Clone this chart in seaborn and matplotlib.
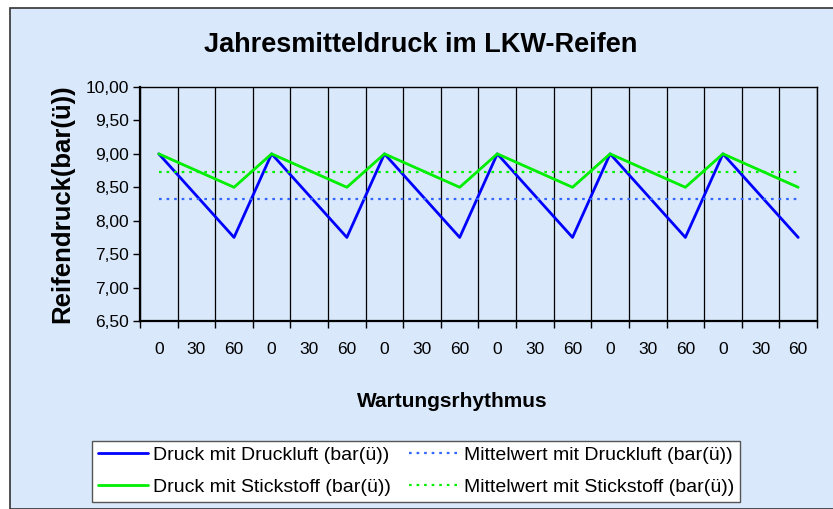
import pandas as pd
import matplotlib.pyplot as plt
import seaborn as sns
from matplotlib.patches import Rectangle
from matplotlib.ticker import FuncFormatter, MultipleLocator

# Daten
rhythmus = ['0', '30', '60'] * 6
druckluft = [9.00, 8.375, 7.75] * 6
stickstoff = [9.00, 8.75, 8.50] * 6
mittel_druckluft = [8.33] * 18
mittel_stickstoff = [8.73] * 18

df = pd.DataFrame({
    'pos': range(len(rhythmus)),
    'Druck mit Druckluft (bar(ü))': druckluft,
    'Druck mit Stickstoff (bar(ü))': stickstoff,
    'Mittelwert mit Druckluft (bar(ü))': mittel_druckluft,
    'Mittelwert mit Stickstoff (bar(ü))': mittel_stickstoff,
})

sns.set_style('ticks')
plt.rcParams['font.family'] = ['Liberation Sans', 'DejaVu Sans']
plt.rcParams['text.color'] = 'black'
plt.rcParams['axes.labelcolor'] = 'black'
plt.rcParams['xtick.color'] = 'black'
plt.rcParams['ytick.color'] = 'black'

bg = '#d9e8fa'
fig = plt.figure(figsize=(8.33, 5.09), dpi=100, facecolor='white')
fig.patches.append(Rectangle((10 / 833, 0), 1, 1 - 8 / 509, transform=fig.transFigure,
                             facecolor=bg, edgecolor='#333333', linewidth=1.2, zorder=-10))

ax = fig.add_axes([140 / 833, 1 - 321 / 509, 677 / 833, 234 / 509])
ax.set_facecolor(bg)

#Linien
sns.lineplot(data=df, x='pos', y='Druck mit Druckluft (bar(ü))', ax=ax, color='#0000ff',
             linewidth=2, label='Druck mit Druckluft (bar(ü))')
sns.lineplot(data=df, x='pos', y='Druck mit Stickstoff (bar(ü))', ax=ax, color='#00ee00',
             linewidth=2, label='Druck mit Stickstoff (bar(ü))')
sns.lineplot(data=df, x='pos', y='Mittelwert mit Druckluft (bar(ü))', ax=ax, color='#3366ff',
             linewidth=1.6, linestyle=(0, (1.2, 2.2)), label='Mittelwert mit Druckluft (bar(ü))')
sns.lineplot(data=df, x='pos', y='Mittelwert mit Stickstoff (bar(ü))', ax=ax, color='#00ee00',
             linewidth=1.6, linestyle=(0, (1.2, 2.2)), label='Mittelwert mit Stickstoff (bar(ü))')

ax.set_xlim(-0.5, len(rhythmus) - 0.5)
ax.set_ylim(6.5, 10.0)
ax.yaxis.set_major_locator(MultipleLocator(0.5))
ax.yaxis.set_major_formatter(FuncFormatter(lambda v, p: f'{v:.2f}'.replace('.', ',')))
ax.set_xticks(range(len(rhythmus)))
ax.set_xticklabels(rhythmus)
ax.set_xticks([i + 0.5 for i in range(-1, len(rhythmus))], minor=True)
ax.tick_params(axis='x', which='major', length=0, pad=15, labelsize=12.5)
ax.tick_params(axis='x', which='minor', length=5, width=1, color='black', direction='out')
ax.tick_params(axis='y', length=5, width=1, labelsize=12.5, pad=3)
ax.grid(axis='x', which='minor', color='black', linewidth=0.9)
for s in ax.spines.values():
    s.set_color('black')
    s.set_linewidth(1)
ax.spines['bottom'].set_linewidth(1.6)
ax.spines['left'].set_linewidth(1.6)

ax.set_xlabel('Wartungsrhythmus', fontsize=15, fontweight='bold', va='center')
ax.xaxis.set_label_coords(0.461, -0.342)
ax.set_ylabel('Reifendruck(bar(ü))', fontsize=18.5, fontweight='bold', labelpad=8)
fig.suptitle('Jahresmitteldruck im LKW-Reifen', x=421 / 833, y=1 - 45 / 509, va='center',
             fontsize=19.5, fontweight='bold')

handles, labels = ax.get_legend_handles_labels()
ax.get_legend().remove()
leg = fig.legend(handles, labels, ncol=2, loc='lower left',
                 bbox_to_anchor=(92 / 833, 7 / 509, 648 / 833, 64 / 509), mode='expand',
                 fontsize=14, frameon=True, fancybox=False, handlelength=2.6,
                 handletextpad=0.25, columnspacing=2.2, labelspacing=0.75, borderaxespad=0,
                 borderpad=0.3)
leg.get_frame().set_edgecolor('#555555')
leg.get_frame().set_facecolor('white')
leg.get_frame().set_alpha(1)

fig.savefig('out.png', dpi=100, facecolor=fig.get_facecolor())
